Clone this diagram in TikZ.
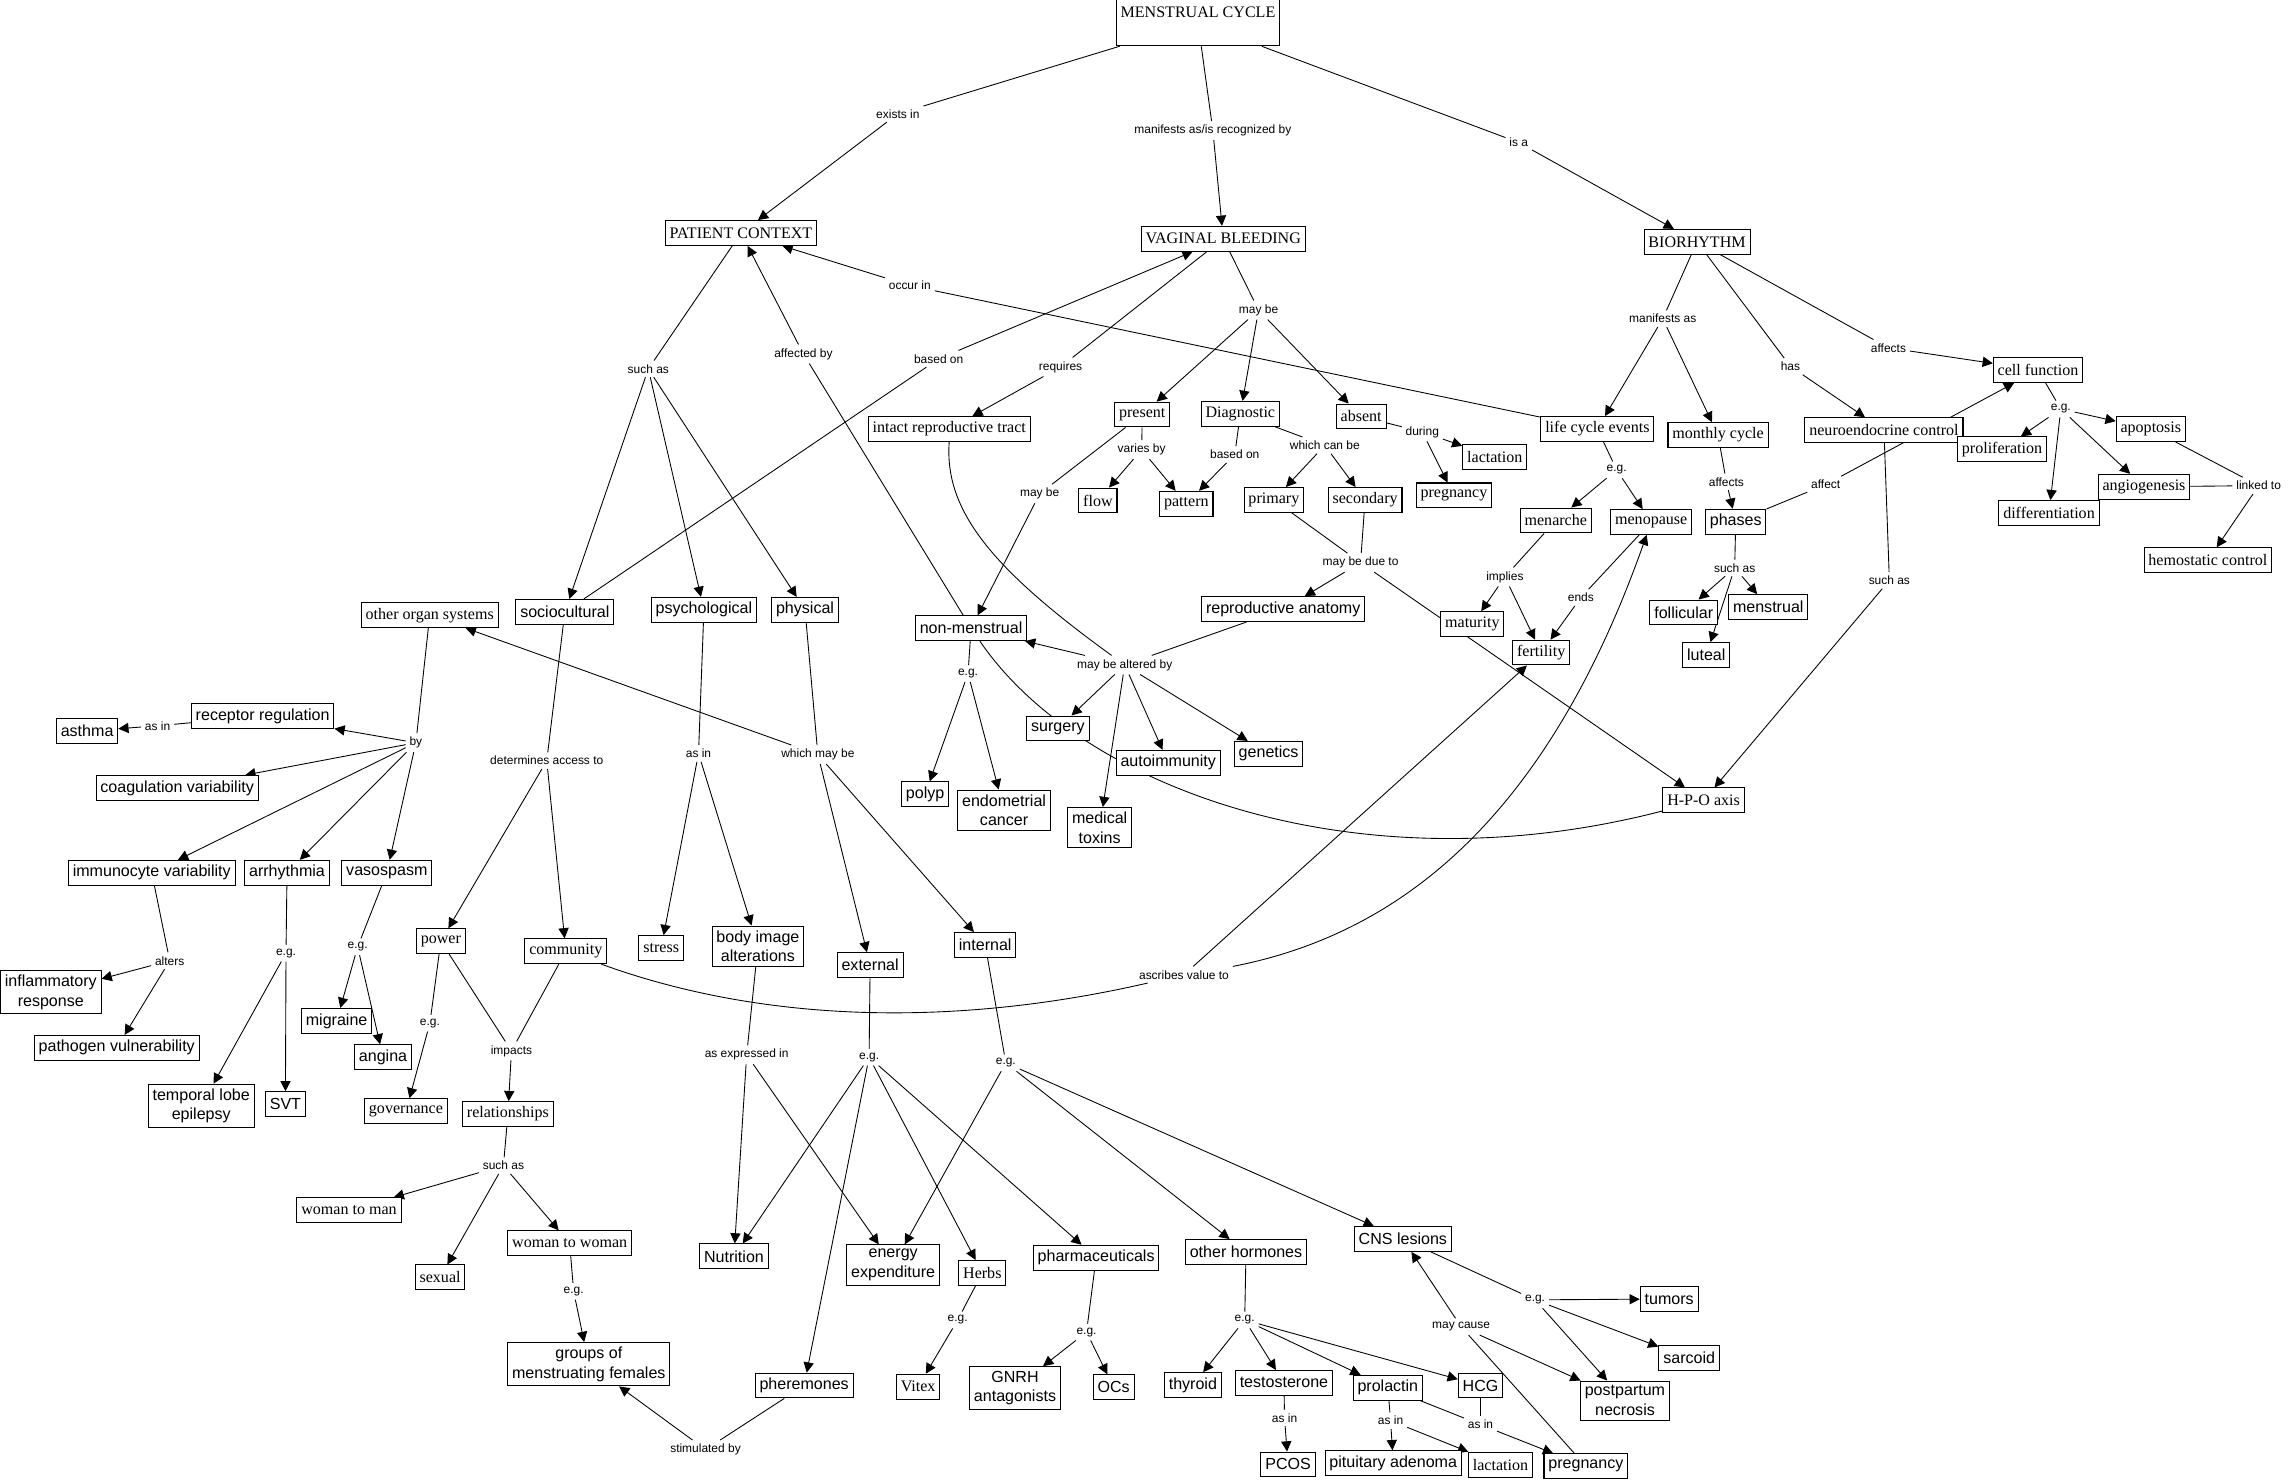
\documentclass[tikz,border=0pt]{standalone}
\usepackage{fontspec}
\setmainfont{Liberation Serif}
\setsansfont{Liberation Sans}
\usetikzlibrary{arrows.meta,backgrounds}
\tikzset{
  concept/.style={rectangle, draw=black, line width=0.7pt, fill=white, align=center,
                  inner xsep=3pt, inner ysep=3pt, minimum height=17pt,
                  font=\rmfamily\fontsize{11}{13.5}\selectfont},
  sconcept/.style={concept, font=\sffamily\fontsize{11}{13.5}\selectfont},
  topbox/.style={concept, anchor=north, text height=8pt, text depth=15pt, inner ysep=4.5pt},
  lnk/.style={font=\sffamily\fontsize{8.2}{9.5}\selectfont, inner sep=2.5pt},
  conn/.style={draw=black, line width=0.6pt},
  flow/.style={conn, -{Triangle[length=7pt,width=7pt]}}
}
\begin{document}
\begin{tikzpicture}[x=1pt, y=-1pt]
  \useasboundingbox (0,0) rectangle (1568,1016);
  % concepts
  \node[topbox] (mc) at (821,-1) {MENSTRUAL CYCLE};
  \node[concept] (pc) at (507.8,159.7) {PATIENT CONTEXT};
  \node[concept] (vb) at (838.3,163.6) {VAGINAL BLEEDING};
  \node[concept] (bio) at (1163,165.7) {BIORHYTHM};
  \node[concept] (oos) at (294.5,421.6) {other organ systems};
  \node[sconcept] (socio) at (387.1,419.3) {sociocultural};
  \node[sconcept] (psych) at (482.4,417.9) {psychological};
  \node[sconcept] (phys) at (551.7,417.9) {physical};
  \node[concept] (irt) at (650.5,294) {intact reproductive tract};
  \node[concept] (pres) at (782.8,284.1) {present};
  \node[concept] (diag) at (850,283.6) {Diagnostic};
  \node[concept] (abs) at (932.8,285.4) {absent};
  \node[concept] (flo) at (752.4,343) {flow};
  \node[concept] (patt) at (813,345.2) {pattern};
  \node[concept] (prim) at (873,342.6) {primary};
  \node[concept] (sec) at (935.5,342.6) {secondary};
  \node[concept] (lact) at (1024.4,313.3) {lactation};
  \node[concept] (preg) at (996.4,339.5) {pregnancy};
  \node[sconcept] (nm) at (665.5,430.5) {non-menstrual};
  \node[sconcept] (repro) at (879.4,417.4) {reproductive anatomy};
  \node[sconcept] (surg) at (725,499.2) {surgery};
  \node[sconcept] (auto) at (800.6,522.7) {autoimmunity};
  \node[sconcept] (gen) at (869.4,516.6) {genetics};
  \node[sconcept] (tox) at (753.6,567.2) {medical\\toxins};
  \node[sconcept] (polyp) at (634,544.3) {polyp};
  \node[sconcept] (endo) at (688.1,555.2) {endometrial\\cancer};
  \node[concept] (lce) at (1094.7,294) {life cycle events};
  \node[concept] (mcyc) at (1177.4,298.2) {monthly cycle};
  \node[concept] (neuro) at (1291.1,294.8) {neuroendocrine control};
  \node[concept] (cellf) at (1396.7,253.6) {cell function};
  \node[concept] (prolif) at (1372,307.9) {proliferation};
  \node[concept] (apop) at (1474,294) {apoptosis};
  \node[concept] (angio) at (1469.3,333.6) {angiogenesis};
  \node[concept] (diff) at (1404.2,351.6) {differentiation};
  \node[concept] (hemo) at (1513.1,383.9) {hemostatic control};
  \node[concept] (menar) at (1066.2,356.7) {menarche};
  \node[concept] (menop) at (1131.6,357.7) {menopause};
  \node[concept] (matur) at (1009,427.7) {maturity};
  \node[concept] (fert) at (1056.2,447.2) {fertility};
  \node[sconcept] (phases) at (1189.5,357.5) {phases};
  \node[sconcept] (foll) at (1153.9,419.7) {follicular};
  \node[sconcept] (menst) at (1211.8,416) {menstrual};
  \node[sconcept] (lut) at (1169.3,449) {luteal};
  \node[concept] (hpo) at (1167.5,548.5) {H-P-O axis};
  \node[sconcept] (rr) at (180,490.8) {receptor regulation};
  \node[sconcept] (asth) at (59.7,501) {asthma};
  \node[sconcept] (coag) at (121.4,540) {coagulation variability};
  \node[sconcept] (immu) at (104,598.1) {immunocyte variability};
  \node[sconcept] (arr) at (196.7,598.1) {arrhythmia};
  \node[sconcept] (vaso) at (265.1,598.1) {vasospasm};
  \node[sconcept] (infl) at (34.8,680) {inflammatory\\response};
  \node[sconcept] (path) at (80,718.1) {pathogen vulnerability};
  \node[sconcept] (tle) at (137.9,757.9) {temporal lobe\\epilepsy};
  \node[sconcept] (svt) at (195.6,756.7) {SVT};
  \node[sconcept] (migr) at (230.7,699.6) {migraine};
  \node[sconcept] (ang) at (262.5,724.5) {angina};
  \node[concept] (power) at (302.1,645) {power};
  \node[concept] (comm) at (387.8,651.9) {community};
  \node[concept] (stress) at (453.1,649.7) {stress};
  \node[sconcept] (body) at (519.4,648.4) {body image\\alterations};
  \node[concept] (gov) at (278.2,761.5) {governance};
  \node[concept] (rel) at (348.1,763.5) {relationships};
  \node[concept] (wtm) at (239.2,829.4) {woman to man};
  \node[concept] (sex) at (301.6,875.4) {sexual};
  \node[concept] (wtw) at (390.4,852) {woman to woman};
  \node[sconcept] (grp) at (403.5,934.9) {groups of\\menstruating females};
  \node[sconcept] (nutr) at (503,861) {Nutrition};
  \node[sconcept] (energy) at (612.1,867) {energy\\expenditure};
  \node[sconcept] (ext) at (596.3,661.4) {external};
  \node[sconcept] (int) at (675.2,647.6) {internal};
  \node[concept] (herbs) at (673.2,872.3) {Herbs};
  \node[concept] (vitex) at (629.2,950.3) {Vitex};
  \node[sconcept] (pharm) at (751.2,861.9) {pharmaceuticals};
  \node[sconcept] (pher) at (551.1,949.5) {pheremones};
  \node[sconcept] (gnrh) at (695.6,951.3) {GNRH\\antagonists};
  \node[sconcept] (ocs) at (763.2,950.7) {OCs};
  \node[sconcept] (oth) at (853.9,858) {other hormones};
  \node[sconcept] (cns) at (961.4,849.1) {CNS lesions};
  \node[sconcept] (thy) at (817.5,949.2) {thyroid};
  \node[sconcept] (testo) at (879.9,947.7) {testosterone};
  \node[sconcept] (prol) at (951.1,951) {prolactin};
  \node[sconcept] (hcg) at (1014.6,949.5) {HCG};
  \node[sconcept] (pcos) at (882.7,1003.6) {PCOS};
  \node[sconcept] (pit) at (954.8,1002.7) {pituitary adenoma};
  \node[concept] (lact2) at (1028.3,1003.8) {lactation};
  \node[sconcept] (preg2) at (1086.8,1004.8) {pregnancy};
  \node[sconcept] (tum) at (1143.9,890.2) {tumors};
  \node[sconcept] (sarc) at (1157.6,930.8) {sarcoid};
  \node[sconcept] (pp) at (1113.6,959.8) {postpartum\\necrosis};
  % linking phrases
  \node[lnk] (lexist) at (615.3,78) {exists in};
  \node[lnk] (lmanif) at (831.2,89.5) {manifests as/is recognized by};
  \node[lnk] (lisa) at (1040.8,97.7) {is a};
  \node[lnk] (lsuch) at (444.3,252.8) {such as};
  \node[lnk] (lafft) at (550.6,242.6) {affected by};
  \node[lnk] (loccur) at (623.5,195.7) {occur in};
  \node[lnk] (lbased) at (643.3,245.9) {based on};
  \node[lnk] (lreq) at (726.8,251.5) {requires};
  \node[lnk] (lmaybe) at (862.5,212.5) {may be};
  \node[lnk] (lvaries) at (782.4,308.2) {varies by};
  \node[lnk] (lbasedd) at (846.2,311.5) {based on};
  \node[lnk] (lwhich) at (907.9,305.2) {which can be};
  \node[lnk] (lduring) at (974.7,296) {during};
  \node[lnk] (lmaybep) at (712.5,338.4) {may be};
  \node[lnk] (ldue) at (932.4,385.6) {may be due to};
  \node[lnk] (lalt) at (770.8,455.7) {may be altered by};
  \node[lnk] (legnm) at (663.4,461.6) {e.g.};
  \node[lnk] (lmanas) at (1139.5,218.4) {manifests as};
  \node[lnk] (lhas) at (1227,251.1) {has};
  \node[lnk] (laffs) at (1294.2,238.4) {affects};
  \node[lnk] (laff) at (1251.2,332.1) {affect};
  \node[lnk] (lsuchn) at (1294.8,397.7) {such as};
  \node[lnk] (leglce) at (1107.9,322) {e.g.};
  \node[lnk] (limpl) at (1031.3,395.4) {implies};
  \node[lnk] (lends) at (1083.4,409.5) {ends};
  \node[lnk] (laffm) at (1183.1,330.2) {affects};
  \node[lnk] (lsuchp) at (1188.8,389.2) {such as};
  \node[lnk] (legc) at (1412.3,280.3) {e.g.};
  \node[lnk] (llink) at (1547.9,332.8) {linked to};
  \node[lnk] (lby) at (285,509) {by};
  \node[lnk] (lasin) at (108,497.4) {as in};
  \node[lnk] (lalters) at (116.3,658.4) {alters};
  \node[lnk] (legarr) at (196,653.2) {e.g.};
  \node[lnk] (legvas) at (245.1,648.9) {e.g.};
  \node[lnk] (ldet) at (374.7,521.3) {determines access to};
  \node[lnk] (lasinp) at (478.7,516.4) {as in};
  \node[lnk] (legpow) at (294.6,701.2) {e.g.};
  \node[lnk] (limp) at (350.5,720.2) {impacts};
  \node[lnk] (lsuchr) at (345,798.8) {such as};
  \node[lnk] (legw) at (393.1,884.9) {e.g.};
  \node[lnk] (lstim) at (483.5,993.4) {stimulated by};
  \node[lnk] (lexpr) at (511.7,722.9) {as expressed in};
  \node[lnk] (lwmb) at (560.5,517.1) {which may be};
  \node[lnk] (lascr) at (811.4,668) {ascribes value to};
  \node[lnk] (legext) at (595.6,724.5) {e.g.};
  \node[lnk] (legint) at (689.3,728.4) {e.g.};
  \node[lnk] (legh) at (656.3,904.6) {e.g.};
  \node[lnk] (legph) at (744.6,912.9) {e.g.};
  \node[lnk] (lego) at (853,904.6) {e.g.};
  \node[lnk] (lcause) at (1001.3,909.2) {may cause};
  \node[lnk] (legcns) at (1052,890.8) {e.g.};
  \node[lnk] (lasint) at (880.3,971.7) {as in};
  \node[lnk] (lasinpr) at (953,973.6) {as in};
  \node[lnk] (lasinh) at (1014.6,976.3) {as in};
  % connectors
  \begin{scope}[on background layer]
  \draw[conn] (mc)--(lexist); \draw[flow] (lexist)--(pc);
  \draw[conn] (mc)--(lmanif); \draw[flow] (lmanif)--(vb);
  \draw[conn] (mc)--(lisa); \draw[flow] (lisa)--(bio);
  \draw[conn] (pc)--(lsuch); \draw[flow] (lsuch)--(socio); \draw[flow] (lsuch)--(psych); \draw[flow] (lsuch)--(phys);
  \draw[conn] (nm)--(lafft); \draw[flow] (lafft)--(pc);
  \draw[conn] (lce)--(loccur); \draw[flow] (loccur)--(pc);
  \draw[conn] (socio)--(lbased); \draw[flow] (lbased)--(vb);
  \draw[conn] (vb)--(lreq); \draw[flow] (lreq)--(irt);
  \draw[conn] (vb)--(lmaybe); \draw[flow] (lmaybe)--(pres); \draw[flow] (lmaybe)--(diag); \draw[flow] (lmaybe)--(abs);
  \draw[conn] (pres)--(lvaries); \draw[flow] (lvaries)--(flo); \draw[flow] (lvaries)--(patt);
  \draw[conn] (diag)--(lbasedd); \draw[flow] (lbasedd)--(patt);
  \draw[conn] (diag)--(lwhich); \draw[flow] (lwhich)--(prim); \draw[flow] (lwhich)--(sec);
  \draw[conn] (abs)--(lduring); \draw[flow] (lduring)--(lact); \draw[flow] (lduring)--(preg);
  \draw[conn] (pres)--(lmaybep); \draw[flow] (lmaybep)--(nm);
  \draw[conn] (prim)--(ldue); \draw[conn] (sec)--(ldue); \draw[flow] (ldue)--(repro); \draw[flow] (ldue)--(hpo);
  \draw[conn] (irt.south) .. controls (647,350) and (680,390) .. (lalt); \draw[conn] (repro)--(lalt);
  \draw[flow] (lalt)--(nm); \draw[flow] (lalt)--(surg); \draw[flow] (lalt)--(tox); \draw[flow] (lalt)--(auto); \draw[flow] (lalt)--(gen);
  \draw[conn] (nm)--(legnm); \draw[flow] (legnm)--(polyp); \draw[flow] (legnm)--(endo);
  \draw[conn] (nm) .. controls (740,540) and (930,610) .. (hpo);
  \draw[conn] (bio)--(lmanas); \draw[flow] (lmanas)--(lce); \draw[flow] (lmanas)--(mcyc);
  \draw[conn] (bio)--(lhas); \draw[flow] (lhas)--(neuro);
  \draw[conn] (bio)--(laffs); \draw[flow] (laffs)--(cellf);
  \draw[conn] (phases)--(laff); \draw[flow] (laff)--(cellf);
  \draw[conn] (neuro)--(lsuchn); \draw[flow] (lsuchn)--(hpo);
  \draw[conn] (lce)--(leglce); \draw[flow] (leglce)--(menar); \draw[flow] (leglce)--(menop);
  \draw[conn] (menar)--(limpl); \draw[flow] (limpl)--(matur); \draw[flow] (limpl)--(fert);
  \draw[conn] (menop)--(lends); \draw[flow] (lends)--(fert);
  \draw[conn] (mcyc)--(laffm); \draw[flow] (laffm)--(phases);
  \draw[conn] (phases)--(lsuchp); \draw[flow] (lsuchp)--(foll); \draw[flow] (lsuchp)--(menst); \draw[flow] (lsuchp)--(lut);
  \draw[conn] (cellf)--(legc); \draw[flow] (legc)--(prolif); \draw[flow] (legc)--(apop); \draw[flow] (legc)--(angio); \draw[flow] (legc)--(diff);
  \draw[conn] (apop)--(llink); \draw[conn] (angio)--(llink); \draw[flow] (llink)--(hemo);
  \draw[conn] (oos)--(lby); \draw[flow] (lby)--(rr); \draw[flow] (lby)--(coag); \draw[flow] (lby)--(immu); \draw[flow] (lby)--(arr); \draw[flow] (lby)--(vaso);
  \draw[conn] (rr)--(lasin); \draw[flow] (lasin)--(asth);
  \draw[conn] (immu)--(lalters); \draw[flow] (lalters)--(infl); \draw[flow] (lalters)--(path);
  \draw[conn] (arr)--(legarr); \draw[flow] (legarr)--(tle); \draw[flow] (legarr)--(svt);
  \draw[conn] (vaso)--(legvas); \draw[flow] (legvas)--(migr); \draw[flow] (legvas)--(ang);
  \draw[conn] (socio)--(ldet); \draw[flow] (ldet)--(power); \draw[flow] (ldet)--(comm);
  \draw[conn] (power)--(legpow); \draw[flow] (legpow)--(gov);
  \draw[conn] (power)--(limp); \draw[conn] (comm)--(limp); \draw[flow] (limp)--(rel);
  \draw[conn] (rel)--(lsuchr); \draw[flow] (lsuchr)--(wtm); \draw[flow] (lsuchr)--(sex); \draw[flow] (lsuchr)--(wtw);
  \draw[conn] (wtw)--(legw); \draw[flow] (legw)--(grp);
  \draw[conn] (pher)--(lstim); \draw[flow] (lstim)--(grp);
  \draw[conn] (comm) .. controls (520,700) and (650,705) .. (lascr);
  \draw[flow] (lascr)--(fert); \draw[flow] (lascr.north east) .. controls (960,640) and (1060,560) .. (menop);
  \draw[conn] (psych)--(lasinp); \draw[flow] (lasinp)--(stress); \draw[flow] (lasinp)--(body);
  \draw[conn] (body)--(lexpr); \draw[flow] (lexpr)--(nutr); \draw[flow] (lexpr)--(energy);
  \draw[conn] (phys)--(lwmb); \draw[flow] (lwmb)--(oos); \draw[flow] (lwmb)--(ext); \draw[flow] (lwmb)--(int);
  \draw[conn] (ext)--(legext); \draw[flow] (legext)--(nutr); \draw[flow] (legext)--(herbs); \draw[flow] (legext)--(pharm); \draw[flow] (legext)--(pher);
  \draw[conn] (int)--(legint); \draw[flow] (legint)--(energy); \draw[flow] (legint)--(oth); \draw[flow] (legint)--(cns);
  \draw[conn] (herbs)--(legh); \draw[flow] (legh)--(vitex);
  \draw[conn] (pharm)--(legph); \draw[flow] (legph)--(gnrh); \draw[flow] (legph)--(ocs);
  \draw[conn] (oth)--(lego); \draw[flow] (lego)--(thy); \draw[flow] (lego)--(testo); \draw[flow] (lego)--(prol); \draw[flow] (lego)--(hcg);
  \draw[conn] (testo)--(lasint); \draw[flow] (lasint)--(pcos);
  \draw[conn] (prol)--(lasinpr); \draw[flow] (lasinpr)--(pit); \draw[flow] (lasinpr)--(lact2);
  \draw[conn] (prol)--(lasinh); \draw[conn] (hcg)--(lasinh); \draw[flow] (lasinh)--(preg2);
  \draw[conn] (cns)--(legcns); \draw[flow] (legcns)--(tum); \draw[flow] (legcns)--(sarc); \draw[flow] (legcns)--(pp);
  \draw[conn] (preg2)--(lcause); \draw[flow] (lcause)--(cns); \draw[flow] (lcause)--(pp);
  \end{scope}
\end{tikzpicture}
\end{document}
